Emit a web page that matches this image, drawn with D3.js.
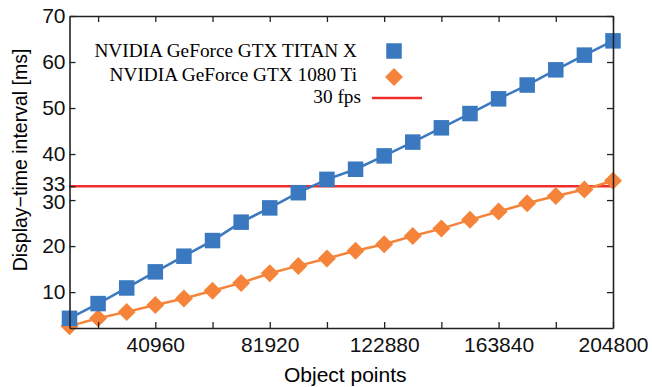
<!DOCTYPE html>
<html>
<head>
<meta charset="utf-8">
<script src="https://cdn.jsdelivr.net/npm/d3@7"></script>
<style>
  body { margin: 0; background: #fff; }
  .axis text { font-family: "Liberation Sans", Arial, sans-serif; font-size: 21px; fill: #111; }
  .axis path, .axis line { stroke: #222; }
</style>
</head>
<body>
<div id="canvas"></div>
<script>
// data
var objectPoints = [10240, 20480, 30720, 40960, 51200, 61440, 71680, 81920, 92160, 102400,
                    112640, 122880, 133120, 143360, 153600, 163840, 174080, 184320, 194560, 204800];
var titanX = [4.3, 7.5, 10.9, 14.4, 17.8, 21.2, 25.2, 28.3, 31.6, 34.5,
              36.7, 39.6, 42.6, 45.7, 48.8, 52.0, 55.0, 58.3, 61.5, 64.6];
var gtx1080 = [2.6, 4.3, 5.7, 7.2, 8.6, 10.3, 12.0, 14.1, 15.7, 17.3,
               19.0, 20.4, 22.2, 23.8, 25.7, 27.5, 29.3, 30.9, 32.3, 34.2];
var fpsLine = 33;
var xTicks = [20480, 40960, 61440, 81920, 102400, 122880, 143360, 163840, 184320, 204800];
var xLabels = [40960, 81920, 122880, 163840, 204800];
var yTicks = [10, 20, 30, 33, 40, 50, 60, 70];
var legendNames = ['NVIDIA GeForce GTX TITAN X', 'NVIDIA GeForce GTX 1080 Ti', '30 fps'];

var blue = '#3a78bf', orange = '#f5843a', red = '#ee2d2d';

var outerWidth = 652, outerHeight = 387;
var m = {t:16, r:39, b:59, l:69.5};
var w = outerWidth - m.l - m.r,
    h = outerHeight - m.t - m.b;

var svg = d3.select('#canvas').append('svg')
    .attr('width', outerWidth)
    .attr('height', outerHeight);

var plot = svg.append('g')
    .attr('transform', 'translate(' + m.l + ',' + m.t + ')');

var scaleX = d3.scaleLinear().domain([10240, 204800]).range([0, w]);
var scaleY = d3.scaleLinear().domain([2.2, 70]).range([h, 0]);

// 30 fps reference
plot.append('line')
    .attr('x1', 0).attr('x2', w)
    .attr('y1', scaleY(fpsLine)).attr('y2', scaleY(fpsLine))
    .attr('stroke', red).attr('stroke-width', 2.5);

var line = d3.line()
    .x(function(d){ return scaleX(d.x); })
    .y(function(d){ return scaleY(d.y); });

function pairs(vals) {
    return vals.map(function(v, i){ return {x: objectPoints[i], y: v}; });
}

// 1080 Ti
plot.append('path')
    .datum(pairs(gtx1080))
    .attr('d', line)
    .attr('fill', 'none').attr('stroke', orange).attr('stroke-width', 2.5);

plot.selectAll('.diamond')
    .data(pairs(gtx1080))
    .enter()
    .append('path')
    .attr('class', 'diamond')
    .attr('d', 'M0,-9L9,0L0,9L-9,0Z')
    .attr('transform', function(d){ return 'translate(' + scaleX(d.x) + ',' + scaleY(d.y) + ')'; })
    .attr('fill', orange);

// TITAN X
plot.append('path')
    .datum(pairs(titanX))
    .attr('d', line)
    .attr('fill', 'none').attr('stroke', blue).attr('stroke-width', 2.5);

plot.selectAll('.square')
    .data(pairs(titanX))
    .enter()
    .append('rect')
    .attr('class', 'square')
    .attr('width', 15.5).attr('height', 15.5)
    .attr('x', function(d){ return scaleX(d.x) - 7.75; })
    .attr('y', function(d){ return scaleY(d.y) - 7.75; })
    .attr('fill', blue);

// axes, ticks pointing inward
var fmtX = function(d){ return xLabels.indexOf(d) >= 0 ? d : ''; };

plot.append('g').attr('class', 'axis')
    .attr('transform', 'translate(0,' + h + ')')
    .call(d3.axisBottom(scaleX).tickValues(xTicks).tickFormat(fmtX).tickSizeInner(-6).tickSizeOuter(0).tickPadding(9));

plot.append('g').attr('class', 'axis')
    .call(d3.axisTop(scaleX).tickValues(xTicks).tickFormat('').tickSizeInner(-6).tickSizeOuter(0));

var yAxis = plot.append('g').attr('class', 'axis')
    .call(d3.axisLeft(scaleY).tickValues(yTicks).tickSizeInner(-6).tickSizeOuter(0).tickPadding(4));

// 33 and 30 sit very close, nudge them apart a little
yAxis.selectAll('.tick text')
    .attr('dy', function(d){ return d === fpsLine ? '0.2em' : (d === 30 ? '0.4em' : '0.32em'); });

plot.append('g').attr('class', 'axis')
    .attr('transform', 'translate(' + w + ',0)')
    .call(d3.axisRight(scaleY).tickValues(yTicks.filter(function(d){ return d !== fpsLine; })).tickFormat('').tickSizeInner(-6).tickSizeOuter(0));

plot.selectAll('.axis path.domain').attr('stroke-width', 1.6);
plot.selectAll('.axis line').attr('stroke-width', 1.3);

// axis titles
svg.append('text')
    .attr('x', m.l + w / 2 + 4).attr('y', 382)
    .attr('text-anchor', 'middle')
    .style('font-family', '"Liberation Sans", Arial, sans-serif')
    .style('font-size', '21px')
    .text('Object points');

svg.append('text')
    .attr('transform', 'translate(26.5,160) rotate(-90)')
    .attr('text-anchor', 'middle')
    .style('font-family', '"Liberation Sans", Arial, sans-serif')
    .style('font-size', '19.5px')
    .text('Display\u2212time interval [ms]');

// legend
var legend = svg.append('g').attr('transform', 'translate(357,0)');
var legY = [57, 81, 103];
var legX = [0, 0, 4];
legend.selectAll('text')
    .data(legendNames)
    .enter()
    .append('text')
    .attr('x', function(d, i){ return legX[i]; })
    .attr('y', function(d, i){ return legY[i]; })
    .attr('text-anchor', 'end')
    .style('font-family', '"Liberation Serif", "Times New Roman", serif')
    .style('font-size', '19.3px')
    .text(function(d){ return d; });

legend.append('rect')
    .attr('x', 37 - 7.75).attr('y', 51 - 7.75)
    .attr('width', 15.5).attr('height', 15.5)
    .attr('fill', blue);
legend.append('path')
    .attr('d', 'M0,-9L9,0L0,9L-9,0Z')
    .attr('transform', 'translate(37,77)')
    .attr('fill', orange);
legend.append('line')
    .attr('x1', 15).attr('x2', 65)
    .attr('y1', 98).attr('y2', 98)
    .attr('stroke', red).attr('stroke-width', 2.5);
</script>
</body>
</html>
